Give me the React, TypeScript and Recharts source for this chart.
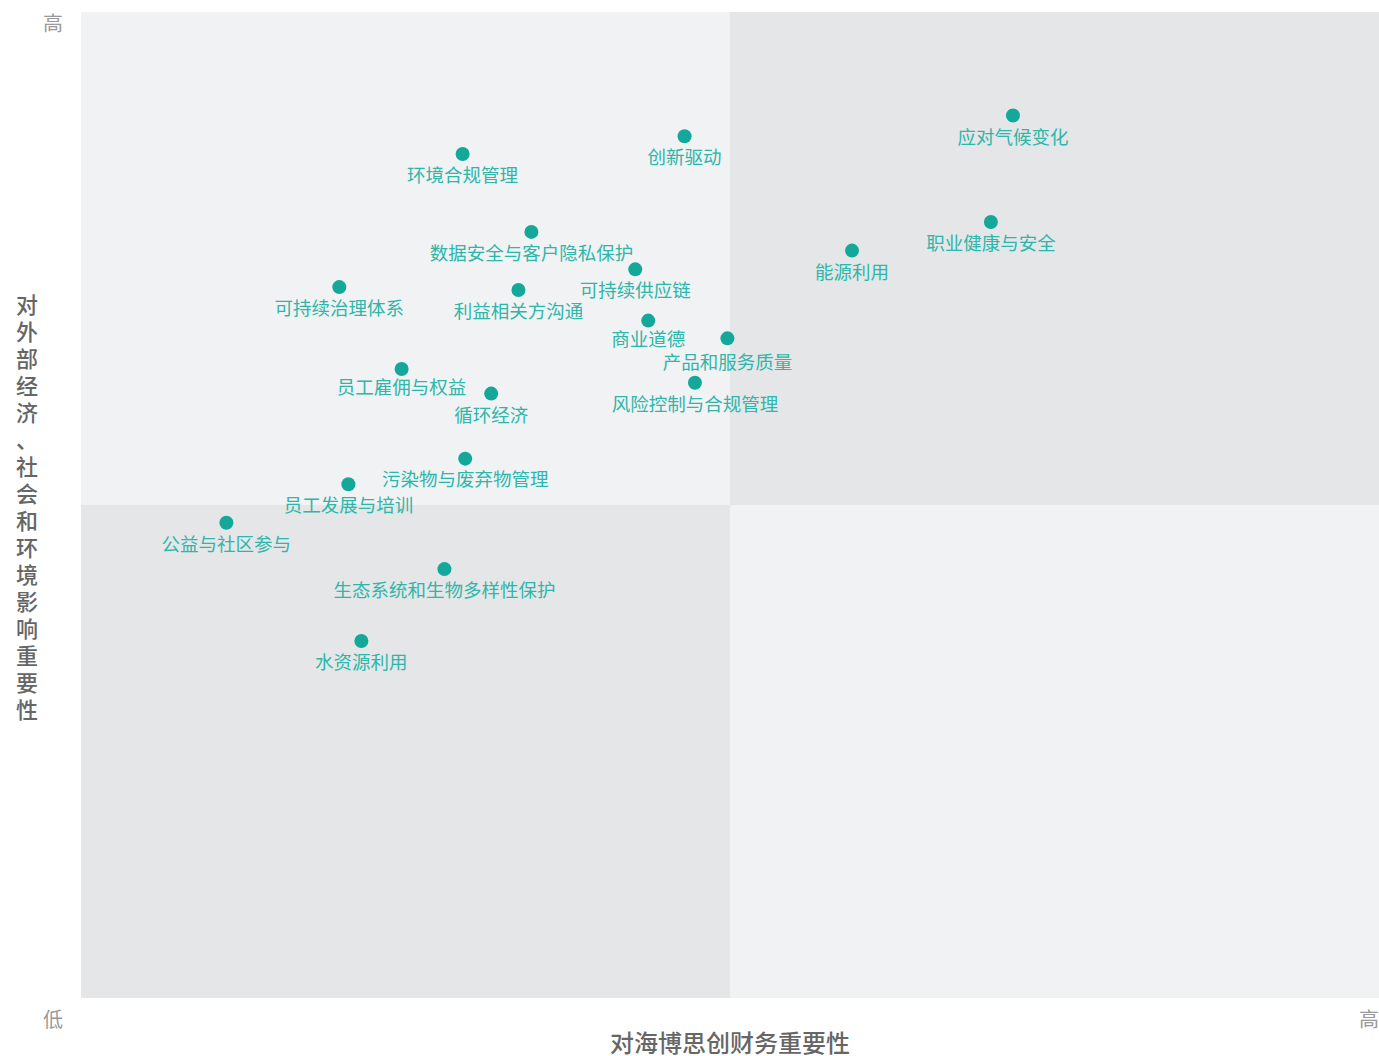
import React from 'react';
import { ScatterChart, Scatter, XAxis, YAxis, ReferenceArea, Label } from 'recharts';

// topics with their (financial, impact) scores, 0-10 scale
const topics = [
  '应对气候变化', '创新驱动', '环境合规管理', '职业健康与安全', '能源利用',
  '数据安全与客户隐私保护', '可持续供应链', '可持续治理体系', '利益相关方沟通', '商业道德',
  '产品和服务质量', '风险控制与合规管理', '员工雇佣与权益', '循环经济', '污染物与废弃物管理',
  '员工发展与培训', '公益与社区参与', '生态系统和生物多样性保护', '水资源利用',
];
const financial = [7.18, 4.65, 2.94, 7.01, 5.94, 3.47, 4.27, 1.99, 3.37, 4.37, 4.98, 4.73, 2.47, 3.16, 2.96, 2.06, 1.12, 2.80, 2.16];
const impact = [8.95, 8.74, 8.56, 7.87, 7.58, 7.77, 7.39, 7.21, 7.18, 6.87, 6.69, 6.24, 6.38, 6.13, 5.47, 5.21, 4.82, 4.35, 3.62];

const xTitle = '对海博思创财务重要性';
const yTitle = '对外部经济、社会和环境影响重要性';

const data = topics.map((name, i) => ({ name, x: financial[i], y: impact[i] }));

const FONT = '"Noto Sans CJK SC", "Noto Sans", sans-serif';
const LIGHT = '#f1f2f4';
const DARK = '#e5e6e8';

// a few labels are nudged so neighbours don't collide
const labelNudge: Record<string, number> = {
  '商业道德': -3,
  '产品和服务质量': 3,
  '员工雇佣与权益': -3,
  '污染物与废弃物管理': -1,
};

const TopicDot = (props: any) => {
  const { cx, cy, payload } = props;
  const dy = 20 + (labelNudge[payload.name] || 0);
  return (
    <g>
      <circle cx={cx} cy={cy} r={7} fill="#14a89b" />
      <text x={cx} y={cy + dy} textAnchor="middle" dominantBaseline="central" fontSize={18.5} fill="#2db6a9" fontFamily={FONT}>
        {payload.name}
      </text>
    </g>
  );
};

const XTick = (props: any) => {
  const { x, y, payload } = props;
  const dx = payload.value === 0 ? -28 : -2;
  return (
    <text x={x + dx} y={y + 12} textAnchor="middle" dominantBaseline="central" fontSize={20} fill="#999" fontFamily={FONT}>
      {payload.value === 0 ? '低' : '高'}
    </text>
  );
};

const YTick = (props: any) => {
  const { x, y } = props;
  return (
    <text x={x - 20} y={y + 10} textAnchor="middle" dominantBaseline="central" fontSize={20} fill="#999" fontFamily={FONT}>
      高
    </text>
  );
};

// stacked characters, one per row
const YTitle = (props: any) => {
  const { viewBox } = props;
  const cy = viewBox.y + viewBox.height / 2;
  const chars = Array.from(yTitle);
  const step = 27;
  const top = cy - ((chars.length - 1) * step) / 2;
  return (
    <text textAnchor="middle" dominantBaseline="central" fontSize={22} fontWeight={500} fill="#666" fontFamily={FONT}>
      {chars.map((c, i) => (
        <tspan key={i} x={27} y={top + i * step}>
          {c}
        </tspan>
      ))}
    </text>
  );
};

const XTitle = (props: any) => {
  const { viewBox } = props;
  return (
    <text
      x={viewBox.x + viewBox.width / 2}
      y={1041}
      textAnchor="middle"
      dominantBaseline="central"
      fontSize={24}
      fontWeight={500}
      fill="#666"
      fontFamily={FONT}
    >
      {xTitle}
    </text>
  );
};

export default function App() {
  return (
    <div style={{ position: 'absolute', left: 0, top: 0, width: 1379, height: 1056 }}>
      <ScatterChart width={1379} height={1056} margin={{ top: 12, right: 0, left: 0, bottom: 0 }}>
        <XAxis
          type="number"
          dataKey="x"
          domain={[0, 10]}
          ticks={[0, 10]}
          axisLine={false}
          tickLine={false}
          tick={<XTick />}
          height={58}
        >
          <Label content={<XTitle />} />
        </XAxis>
        <YAxis
          type="number"
          dataKey="y"
          domain={[0, 10]}
          ticks={[10]}
          axisLine={false}
          tickLine={false}
          tick={<YTick />}
          width={81}
        >
          <Label content={<YTitle />} />
        </YAxis>
        <ReferenceArea x1={0} x2={5} y1={5} y2={10} fill={LIGHT} fillOpacity={1} stroke="none" />
        <ReferenceArea x1={5} x2={10} y1={5} y2={10} fill={DARK} fillOpacity={1} stroke="none" />
        <ReferenceArea x1={0} x2={5} y1={0} y2={5} fill={DARK} fillOpacity={1} stroke="none" />
        <ReferenceArea x1={5} x2={10} y1={0} y2={5} fill={LIGHT} fillOpacity={1} stroke="none" />
        <Scatter data={data} shape={<TopicDot />} isAnimationActive={false} />
      </ScatterChart>
    </div>
  );
}
